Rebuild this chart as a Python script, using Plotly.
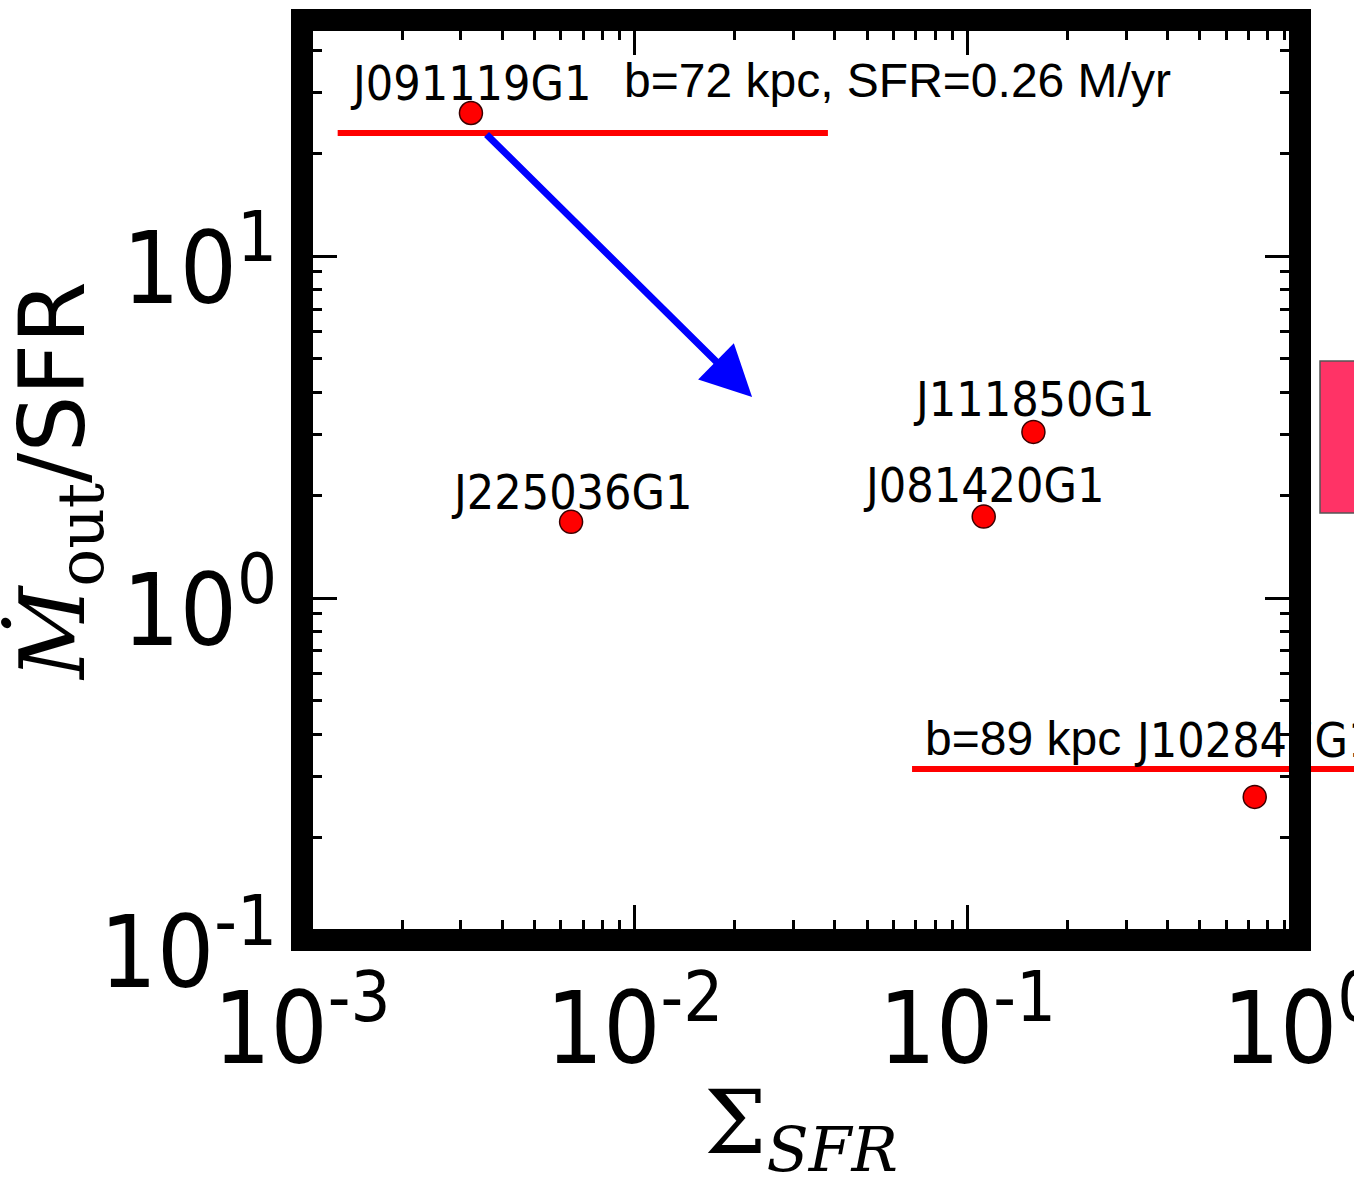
import numpy as np
import plotly.graph_objects as go

# ---------------- data ----------------
names = ["J091119G1", "J225036G1", "J081420G1", "J111850G1", "J102847G1"]
sigma_sfr = [0.00322, 0.00644, 0.112, 0.158, 0.731]
mout_over_sfr = [26.2, 1.67, 1.73, 3.06, 0.262]
label_yshift = [30, 30, 32, 33, 57]

# horizontal red bars
bar1_x = [0.00128, 0.0381]
bar1_y = [22.9, 22.9]
bar2_x = [0.0682, 3.0]
bar2_y = [0.316, 0.316]

# blue arrow (from -> to)
arrow_from = (0.00355, 22.9)
arrow_to = (0.02254, 3.87)

x_tickvals = [1e-3, 1e-2, 1e-1, 1e0]
x_ticktext = ["10<sup>-3</sup>", "10<sup>-2</sup>", "10<sup>-1</sup>", "10<sup>0</sup>"]
y_tickvals = [1e-1, 1e0, 1e1]
y_ticktext = ["10<sup>-1</sup>", "10<sup>0</sup>", "10<sup>1</sup>"]

note_top = "b=72 kpc, SFR=0.26 M/yr"
note_bottom = "b=89 kpc"

# ---------------- geometry ----------------
W, H = 1354, 1186
L, R, T, B = 302, 0, 20, 246
plot_w = W - L - R
main_w = 998
xdom_main = main_w / plot_w
x_range = [-3, 0]
px_per_dec = main_w / (x_range[1] - x_range[0])
x2_range = [-3, -3 + plot_w / px_per_dec]
y_range = [-1, np.log10(49)]

minor_x = [m * 10.0 ** e for e in range(-3, 0) for m in range(2, 10)]
minor_y = [m * 10.0 ** e for e in range(-1, 2) for m in range(2, 10)]

cond = "DejaVu Sans Condensed, Liberation Sans Narrow, DejaVu Sans"

fig = go.Figure()

fig.add_trace(go.Scatter(
    x=sigma_sfr, y=mout_over_sfr, mode="markers",
    marker=dict(size=23, color="#ff0000", line=dict(color="#3a0000", width=1.5)),
    xaxis="x", yaxis="y", showlegend=False, cliponaxis=False,
))
fig.add_trace(go.Scatter(
    x=bar1_x, y=bar1_y, mode="lines", line=dict(color="#ff0000", width=6),
    xaxis="x2", yaxis="y", showlegend=False,
))
fig.add_trace(go.Scatter(
    x=bar2_x, y=bar2_y, mode="lines", line=dict(color="#ff0000", width=6),
    xaxis="x2", yaxis="y", showlegend=False,
))

annotations = []
for n, xv, yv, ys in zip(names, sigma_sfr, mout_over_sfr, label_yshift):
    annotations.append(dict(
        x=np.log10(xv), y=np.log10(yv), xref="x", yref="y", text=n,
        showarrow=False, xanchor="center", yanchor="middle", yshift=ys,
        font=dict(family=cond, size=48, color="black"),
    ))

annotations.append(dict(
    x=np.log10(arrow_to[0]), y=np.log10(arrow_to[1]), xref="x", yref="y",
    ax=np.log10(arrow_from[0]), ay=np.log10(arrow_from[1]), axref="x", ayref="y",
    text="", showarrow=True, arrowhead=2, arrowwidth=7, arrowsize=1.45,
    arrowcolor="#0000ff", standoff=0, startstandoff=0,
))

annotations.append(dict(
    x=-2.038, y=1.514, xref="x", yref="y", text=note_top, showarrow=False,
    xanchor="left", yanchor="middle",
    font=dict(family="Liberation Sans, Arial", size=48, color="black"),
))
annotations.append(dict(
    x=-1.133, y=-0.412, xref="x", yref="y", text=note_bottom, showarrow=False,
    xanchor="left", yanchor="middle",
    font=dict(family="Liberation Sans, Arial", size=48, color="black"),
))

fig.update_layout(
    width=W, height=H,
    margin=dict(l=L, r=R, t=T, b=B, pad=0, autoexpand=False),
    paper_bgcolor="white", plot_bgcolor="rgba(0,0,0,0)",
    showlegend=False,
    annotations=annotations,
    xaxis=dict(
        type="log", domain=[0, xdom_main], range=x_range, anchor="y",
        automargin=False,
        showgrid=False, zeroline=False, showline=False,
        ticks="inside", ticklen=35, tickwidth=3, tickcolor="black", mirror="ticks",
        tickmode="array", tickvals=x_tickvals, ticktext=x_ticktext,
        tickfont=dict(family=cond, size=100, color="black"),
        ticklabelstandoff=22, ticklabeloverflow="allow",
        minor=dict(tickmode="array", tickvals=minor_x, ticks="inside",
                   ticklen=20, tickwidth=3, tickcolor="black", showgrid=False),
        title=dict(
            text='<span style="font-family:DejaVu Serif">Σ<sub><i>SFR</i></sub></span>',
            font=dict(size=88, color="black"), standoff=4,
        ),
    ),
    xaxis2=dict(
        type="log", domain=[0, 1], range=x2_range, anchor="y",
        visible=False, showgrid=False, zeroline=False, automargin=False,
    ),
    yaxis=dict(
        type="log", domain=[0, 1], range=y_range, anchor="x",
        automargin=False,
        showgrid=False, zeroline=False, showline=False,
        ticks="inside", ticklen=35, tickwidth=3, tickcolor="black", mirror="ticks",
        tickmode="array", tickvals=y_tickvals, ticktext=y_ticktext,
        tickfont=dict(family=cond, size=100, color="black"),
        ticklabelstandoff=24, ticklabelshift=12, ticklabeloverflow="allow",
        minor=dict(tickmode="array", tickvals=minor_y, ticks="inside",
                   ticklen=20, tickwidth=3, tickcolor="black", showgrid=False),
        title=dict(
            text='<span style="font-family:DejaVu Serif"><i>Ṁ</i><sub>out</sub></span>/SFR',
            font=dict(family="DejaVu Sans", size=90, color="black"), standoff=2,
        ),
    ),
    shapes=[
        dict(type="rect", xref="paper", yref="paper", x0=0, x1=xdom_main, y0=0, y1=1,
             line=dict(color="black", width=22), fillcolor="rgba(0,0,0,0)", layer="above"),
        dict(type="rect", xref="paper", yref="paper",
             x0=(1320 - L) / plot_w, x1=1.05, y0=(940 - 513) / 920, y1=(940 - 361) / 920,
             line=dict(color="#555555", width=1.5), fillcolor="#ff3366", layer="above"),
    ],
)

fig.write_html("out.html")
